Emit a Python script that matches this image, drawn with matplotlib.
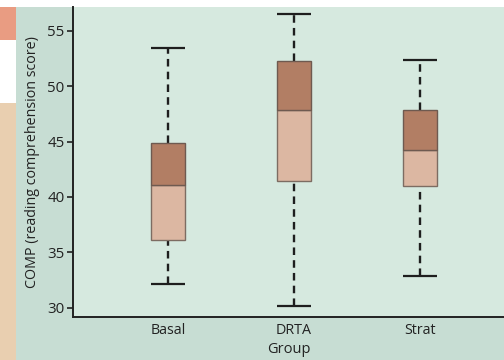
import matplotlib
matplotlib.use("Agg")
import matplotlib.pyplot as plt
from matplotlib.patches import Rectangle
import numpy as np

groups = ["Basal", "DRTA", "Strat"]
whisker_low = [32.1, 30.15, 32.85]
q1 = [36.15, 41.4, 40.95]
median = [41.1, 47.9, 44.25]
q3 = [44.85, 52.3, 47.85]
whisker_high = [53.5, 56.5, 52.4]

plt.rcParams["font.family"] = ["Open Sans", "DejaVu Sans"]

W, H = 504, 360
fig = plt.figure(figsize=(W / 100, H / 100), dpi=100)
fig.patch.set_facecolor("white")

def px_rect(x0, y0, x1, y1, color):
    fig.patches.append(Rectangle((x0 / W, 1 - y1 / H), (x1 - x0) / W, (y1 - y0) / H,
                                 transform=fig.transFigure, facecolor=color,
                                 edgecolor="none", zorder=-10))

# page decoration: side strip and panel background
px_rect(0, 7, 16, 40, "#e99c82")
px_rect(0, 103, 16, 360, "#e9cfb0")
px_rect(16, 7, 504, 360, "#c7ddd3")

ax = fig.add_axes([73 / W, 1 - 317 / H, (504 - 73) / W, (317 - 7) / H])
ax.set_facecolor("#d6e9df")

pos = np.arange(1, len(groups) + 1)
width = 0.27
lower_h = np.array(median) - np.array(q1)
upper_h = np.array(q3) - np.array(median)
ax.bar(pos, lower_h, bottom=q1, width=width, color="#dcb7a2",
       edgecolor="#7d6c62", linewidth=1.0, zorder=3)
ax.bar(pos, upper_h, bottom=median, width=width, color="#b27e64",
       edgecolor="#6e5a50", linewidth=1.0, zorder=3)

ax.vlines(pos, whisker_low, q1, colors="#1e1e1e", linestyles=(0, (3.2, 2.2)),
          linewidth=1.7, zorder=2)
ax.vlines(pos, q3, whisker_high, colors="#1e1e1e", linestyles=(0, (3.2, 2.2)),
          linewidth=1.7, zorder=2)
ax.hlines(whisker_low, pos - width / 2, pos + width / 2, colors="#1e1e1e",
          linewidth=1.6, zorder=2)
ax.hlines(whisker_high, pos - width / 2, pos + width / 2, colors="#1e1e1e",
          linewidth=1.6, zorder=2)

ax.set_xlim(0.246, 3.667)
ax.set_ylim(29.16, 57.16)
ax.set_xticks(pos)
ax.set_xticklabels(groups)
ax.set_yticks([30, 35, 40, 45, 50, 55])
ax.tick_params(axis="x", length=0, pad=4, labelsize=10.3, colors="#222222")
ax.tick_params(axis="y", length=4, width=1.2, pad=2, labelsize=10.8, colors="#222222")
for s in ["top", "right"]:
    ax.spines[s].set_visible(False)
for s in ["left", "bottom"]:
    ax.spines[s].set_linewidth(1.4)
    ax.spines[s].set_color("#222222")

ax.set_xlabel("Group", fontsize=10.5, color="#222222", labelpad=3)
ax.set_ylabel("COMP (reading comprehension score)", fontsize=10.3, color="#222222", labelpad=5)

fig.savefig("out.png", dpi=100, facecolor=fig.get_facecolor())
